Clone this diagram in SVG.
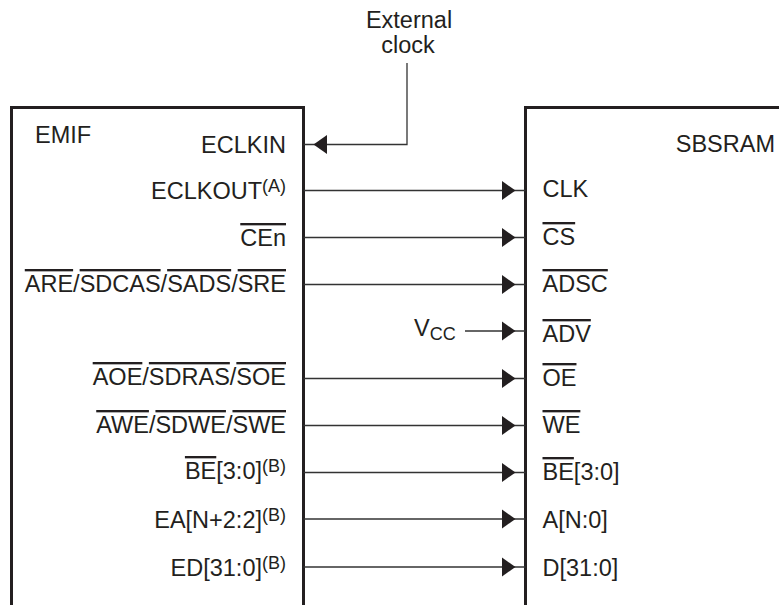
<svg xmlns="http://www.w3.org/2000/svg" width="779" height="605" viewBox="0 0 779 605">
<style>
text{font-family:"Liberation Sans",Arial,Helvetica,sans-serif;font-size:23.5px;fill:#231f20}
.r{text-anchor:end}
.m{text-anchor:middle}
.sup{font-size:18px}
.ol{text-decoration:overline}
.box{fill:none;stroke:#231f20;stroke-width:3}
.wire{fill:none;stroke:#333;stroke-width:1.3;marker-end:url(#arr)}
</style>
<defs>
<marker id="arr" markerUnits="userSpaceOnUse" markerWidth="30" markerHeight="30" refX="0" refY="0" orient="auto" overflow="visible">
<polygon points="-23.5,-9.5 -10,0 -23.5,9.5" fill="#231f20"/>
</marker>
</defs>
<g id="emif">
<path class="box" d="M11.5 606V107.5H303.5V606"/>
<text x="35" y="143">EMIF</text>
<text class="r" x="286" y="153">ECLKIN</text>
<text class="r" x="286" y="199">ECLKOUT<tspan class="sup" dy="-7">(A)</tspan></text>
<text class="r" x="286" y="246"><tspan class="ol">CEn</tspan></text>
<text class="r" x="286" y="292"><tspan class="ol">ARE</tspan>/<tspan class="ol">SDCAS</tspan>/<tspan class="ol">SADS</tspan>/<tspan class="ol">SRE</tspan></text>
<text class="r" x="286" y="385"><tspan class="ol">AOE</tspan>/<tspan class="ol">SDRAS</tspan>/<tspan class="ol">SOE</tspan></text>
<text class="r" x="286" y="433"><tspan class="ol">AWE</tspan>/<tspan class="ol">SDWE</tspan>/<tspan class="ol">SWE</tspan></text>
<text class="r" x="286" y="479"><tspan class="ol">BE</tspan>[3:0]<tspan class="sup" dy="-7">(B)</tspan></text>
<text class="r" x="286" y="528">EA[N+2:2]<tspan class="sup" dy="-7">(B)</tspan></text>
<text class="r" x="286" y="576">ED[31:0]<tspan class="sup" dy="-7">(B)</tspan></text>
</g>
<g id="sbsram">
<path class="box" d="M525.5 606V107.5H780"/>
<text class="r" x="775" y="152">SBSRAM</text>
<text x="542.5" y="197">CLK</text>
<text x="542.5" y="245"><tspan class="ol">CS</tspan></text>
<text x="542.5" y="292"><tspan class="ol">ADSC</tspan></text>
<text x="542.5" y="342"><tspan class="ol">ADV</tspan></text>
<text x="542.5" y="386"><tspan class="ol">OE</tspan></text>
<text x="542.5" y="433"><tspan class="ol">WE</tspan></text>
<text x="542.5" y="480"><tspan class="ol">BE</tspan>[3:0]</text>
<text x="542.5" y="528">A[N:0]</text>
<text x="542.5" y="576">D[31:0]</text>
</g>
<g id="ext-clock">
<text class="m" x="409" y="28">External</text>
<text class="m" x="408" y="53">clock</text>
</g>
<g id="vcc">
<text x="414" y="336">V<tspan class="sup" dy="4">CC</tspan></text>
</g>
<g id="connectors">
<path class="wire" d="M407 63V144.5H303.5"/>
<path class="wire" d="M303.5 190.5H525.5"/>
<path class="wire" d="M303.5 237.5H525.5"/>
<path class="wire" d="M303.5 284.5H525.5"/>
<path class="wire" d="M465 331H525.5"/>
<path class="wire" d="M303.5 378.5H525.5"/>
<path class="wire" d="M303.5 425.5H525.5"/>
<path class="wire" d="M303.5 472.5H525.5"/>
<path class="wire" d="M303.5 519H525.5"/>
<path class="wire" d="M303.5 567H525.5"/>
</g>
</svg>
